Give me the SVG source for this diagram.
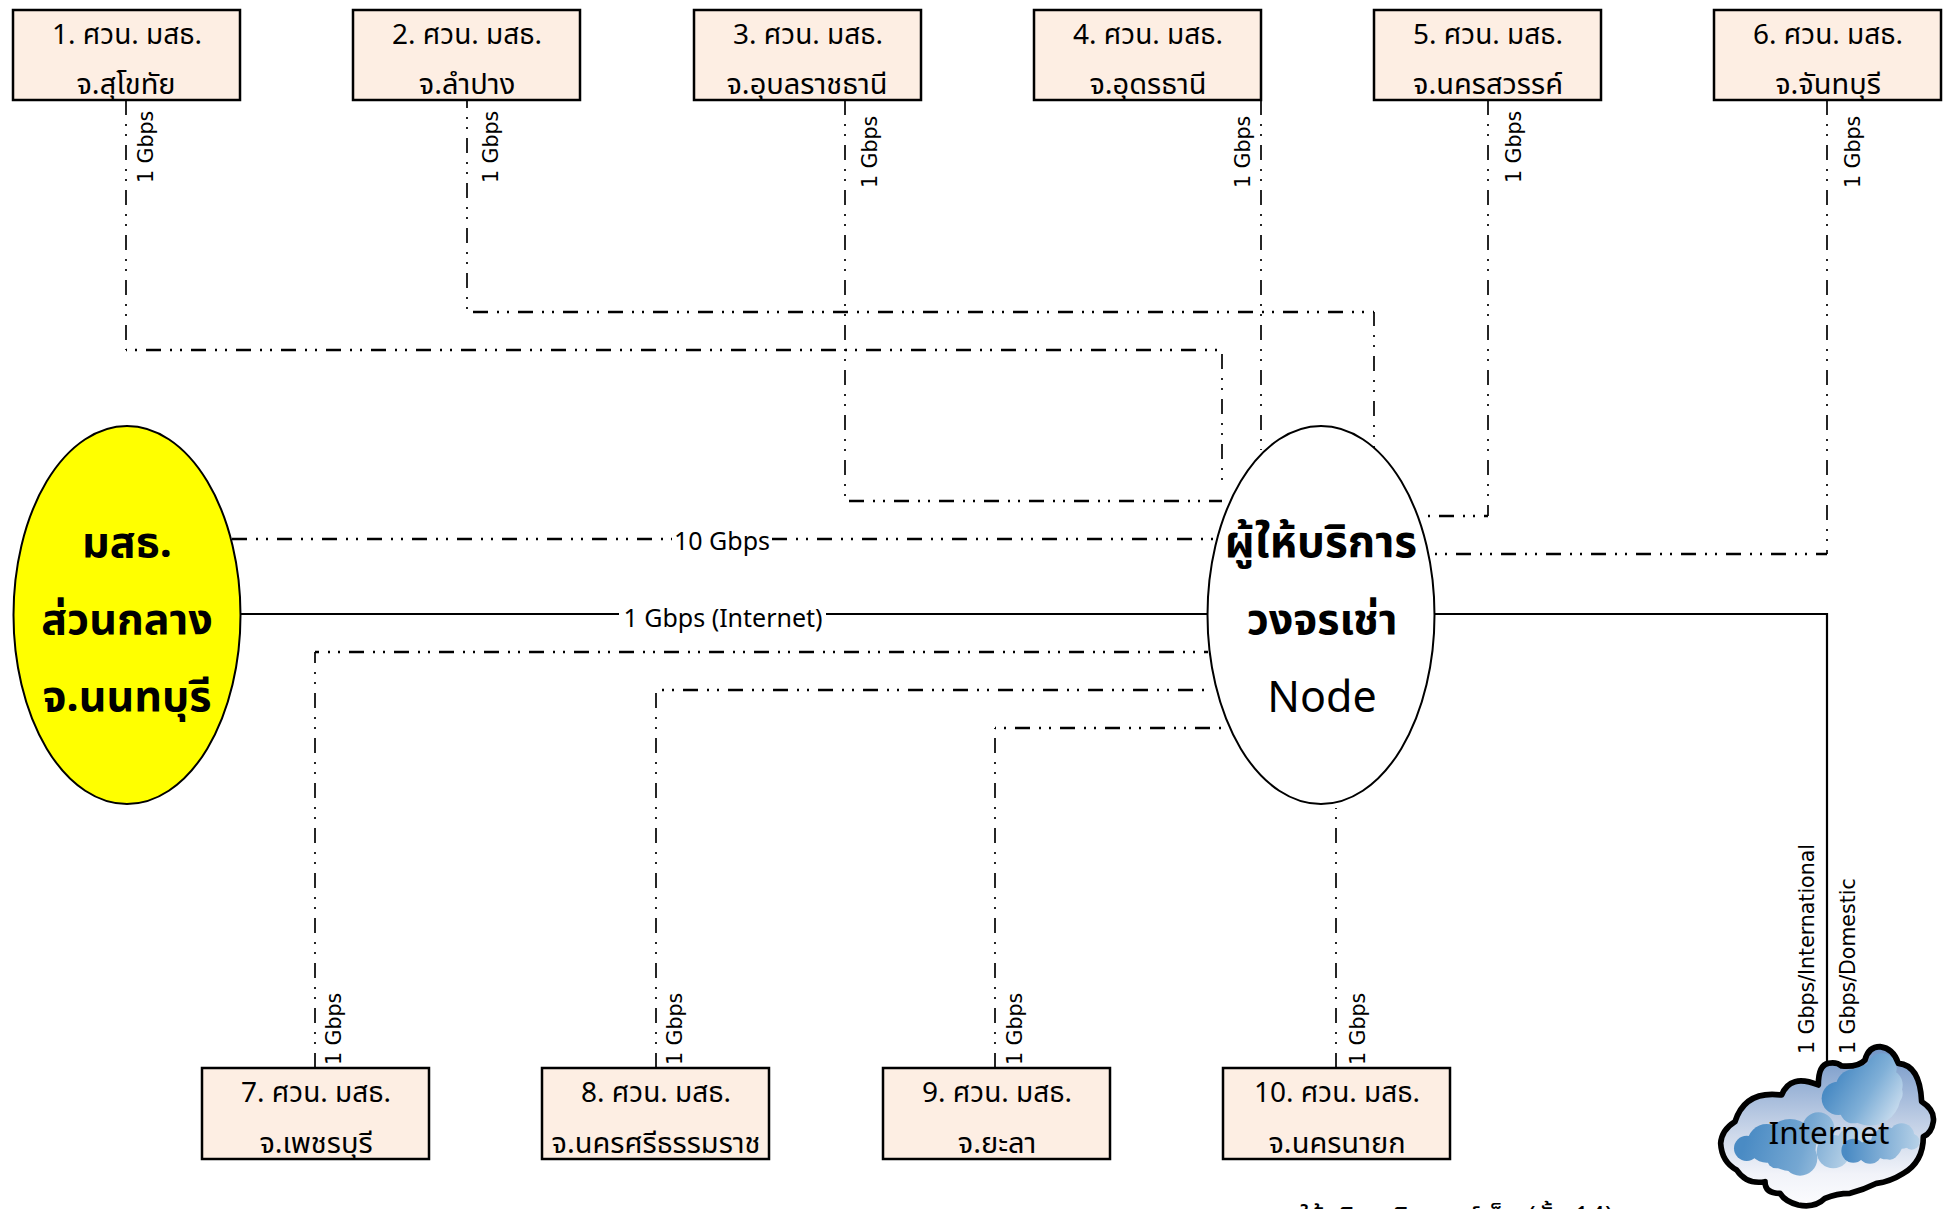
<svg xmlns="http://www.w3.org/2000/svg" width="1946" height="1209" viewBox="0 0 1946 1209">
<style>
text{font-family:"Noto Sans","Noto Sans Thai","Loma","Garuda","DejaVu Sans",sans-serif;text-anchor:middle;fill:#000}
.n{font-size:28px}.n2{font-size:29px}.b{font-size:43px}.l{font-size:25px}
.r{font-family:"DejaVu Sans",sans-serif;font-size:20.500px;text-anchor:start}
.box{fill:#fdeee3;stroke:#000;stroke-width:2.5}
.v,.h{fill:none;stroke:#000;stroke-dasharray:15 9 2 8 2 9}
.v{stroke-width:1.7}.h{stroke-width:2.4}
.s{fill:none;stroke:#000;stroke-width:2.2}
</style>
<defs>
<linearGradient id="cg" x1="0" y1="0" x2="0" y2="1"><stop offset="0" stop-color="#6f94c6"/><stop offset=".55" stop-color="#cdd8ea"/><stop offset=".8" stop-color="#f1f3f9"/><stop offset="1" stop-color="#fcfcfe"/></linearGradient>
<linearGradient id="c1" gradientUnits="userSpaceOnUse" x1="170" y1="320" x2="500" y2="420"><stop offset="0" stop-color="#4a8bc4"/><stop offset=".5" stop-color="#75a7d2"/><stop offset="1" stop-color="#c6dbec"/></linearGradient>
<linearGradient id="c2" gradientUnits="userSpaceOnUse" x1="430" y1="150" x2="620" y2="270"><stop offset="0" stop-color="#4a8bc4"/><stop offset=".5" stop-color="#7fafd7"/><stop offset="1" stop-color="#cfe0f0"/></linearGradient>
<linearGradient id="c3" gradientUnits="userSpaceOnUse" x1="470" y1="340" x2="690" y2="350"><stop offset="0" stop-color="#4a8bc4"/><stop offset="1" stop-color="#b8d2e8"/></linearGradient>
</defs>
<g id="connectors">
<path class="v" d="M126 100V350"/><path class="h" stroke-dashoffset="250" d="M126 350H1222"/><path class="v" stroke-dashoffset="1346" d="M1222 350V480"/>
<path class="v" stroke-dashoffset="7" d="M467 100V312"/><path class="h" stroke-dashoffset="219" d="M467 312H1374"/><path class="v" stroke-dashoffset="1126" d="M1374 312V448"/>
<path class="v" d="M845 100V501"/><path class="h" stroke-dashoffset="401" d="M845 501H1222"/>
<path class="v" d="M1261 100V450"/>
<path class="v" d="M1488 100V516"/><path class="h" stroke-dashoffset="416" d="M1488 516H1420"/>
<path class="v" d="M1827 100V554"/><path class="h" stroke-dashoffset="454" d="M1827 554H1430"/>
<path class="h" d="M232 539H1215"/>
<path class="s" d="M240 614H1208"/>
<path class="s" d="M1434 614H1827V1070"/>
<path class="v" d="M315 1068V652"/><path class="h" stroke-dashoffset="416" d="M315 652H1208"/>
<path class="v" d="M656 1068V690"/><path class="h" stroke-dashoffset="378" d="M656 690H1212"/>
<path class="v" d="M995 1068V728"/><path class="h" stroke-dashoffset="340" d="M995 728H1228"/>
<path class="v" d="M1336 1068V808"/>
</g>
<g id="n1"><rect class="box" x="13" y="10" width="227" height="90"/><text class="n" x="127" y="44">1. ศวน. มสธ.</text><text class="n2" x="126" y="94">จ.สุโขทัย</text></g>
<g id="n2"><rect class="box" x="353" y="10" width="227" height="90"/><text class="n" x="467" y="44">2. ศวน. มสธ.</text><text class="n2" x="467" y="94">จ.ลำปาง</text></g>
<g id="n3"><rect class="box" x="694" y="10" width="227" height="90"/><text class="n" x="808" y="44">3. ศวน. มสธ.</text><text class="n2" x="807" y="94">จ.อุบลราชธานี</text></g>
<g id="n4"><rect class="box" x="1034" y="10" width="227" height="90"/><text class="n" x="1148" y="44">4. ศวน. มสธ.</text><text class="n2" x="1148" y="94">จ.อุดรธานี</text></g>
<g id="n5"><rect class="box" x="1374" y="10" width="227" height="90"/><text class="n" x="1488" y="44">5. ศวน. มสธ.</text><text class="n2" x="1488" y="94">จ.นครสวรรค์</text></g>
<g id="n6"><rect class="box" x="1714" y="10" width="227" height="90"/><text class="n" x="1828" y="44">6. ศวน. มสธ.</text><text class="n2" x="1828" y="94">จ.จันทบุรี</text></g>
<g id="n7"><rect class="box" x="202" y="1068" width="227" height="91"/><text class="n" x="316" y="1102">7. ศวน. มสธ.</text><text class="n2" x="316" y="1153">จ.เพชรบุรี</text></g>
<g id="n8"><rect class="box" x="542" y="1068" width="227" height="91"/><text class="n" x="656" y="1102">8. ศวน. มสธ.</text><text class="n2" x="656" y="1153">จ.นครศรีธรรมราช</text></g>
<g id="n9"><rect class="box" x="883" y="1068" width="227" height="91"/><text class="n" x="997" y="1102">9. ศวน. มสธ.</text><text class="n2" x="997" y="1153">จ.ยะลา</text></g>
<g id="n10"><rect class="box" x="1223" y="1068" width="227" height="91"/><text class="n" x="1337" y="1102">10. ศวน. มสธ.</text><text class="n2" x="1337" y="1153">จ.นครนายก</text></g>
<g id="hq"><ellipse cx="127" cy="615" rx="113.500" ry="189" fill="#ff0" stroke="#000" stroke-width="2"/><text class="b" font-weight="bold" x="127" y="557">มสธ.</text><text class="b" font-weight="bold" x="127" y="634">ส่วนกลาง</text><text class="b" font-weight="bold" x="127" y="711">จ.นนทบุรี</text></g>
<g id="node"><ellipse cx="1321" cy="615" rx="113.500" ry="189" fill="#fff" stroke="#000" stroke-width="2"/><text class="b" font-weight="bold" x="1321" y="557" style="font-size:44px">ผู้ให้บริการ</text><text class="b" font-weight="bold" x="1322" y="634">วงจรเช่า</text><text class="b" x="1322" y="712">Node</text></g>
<g id="internet">
<g transform="translate(1690 1030) scale(.33333)">
<path id="cloud" d="M385 165Q385 105 415 100Q440 95 455 108Q505 112 525 90Q535 50 570 50Q610 55 625 100Q690 105 695 215Q735 240 730 275Q725 310 700 320Q700 395 640 430Q600 455 560 460Q520 480 480 490Q440 490 405 505Q375 535 325 525Q285 515 270 490Q225 490 225 455Q170 465 140 420Q95 395 92 340Q95 300 135 275Q165 180 275 195Q300 130 385 165Z" fill="url(#cg)"/>
<g fill="url(#c1)"><circle cx="170" cy="355" r="38"/><circle cx="230" cy="340" r="58"/><circle cx="300" cy="345" r="78"/><circle cx="330" cy="385" r="52"/><circle cx="260" cy="385" r="30"/><circle cx="430" cy="365" r="50"/><circle cx="385" cy="295" r="48"/><circle cx="490" cy="340" r="50"/></g>
<g fill="url(#c2)"><circle cx="445" cy="205" r="50"/><circle cx="490" cy="170" r="52"/><circle cx="540" cy="195" r="92"/><circle cx="590" cy="165" r="48"/><circle cx="575" cy="115" r="45"/><circle cx="600" cy="190" r="38"/><circle cx="490" cy="240" r="40"/><circle cx="550" cy="245" r="30"/></g>
<g fill="url(#c3)"><circle cx="490" cy="362" r="36"/><circle cx="540" cy="365" r="36"/><circle cx="590" cy="340" r="48"/><circle cx="635" cy="318" r="38"/><circle cx="665" cy="335" r="24"/><circle cx="600" cy="365" r="24"/></g>
<path d="M385 165Q385 105 415 100Q440 95 455 108Q505 112 525 90Q535 50 570 50Q610 55 625 100Q690 105 695 215Q735 240 730 275Q725 310 700 320Q700 395 640 430Q600 455 560 460Q520 480 480 490Q440 490 405 505Q375 535 325 525Q285 515 270 490Q225 490 225 455Q170 465 140 420Q95 395 92 340Q95 300 135 275Q165 180 275 195Q300 130 385 165Z" fill="none" stroke="#000" stroke-width="17" stroke-linejoin="round"/>
</g>
<text x="1829" y="1144" style="font-size:31.500px">Internet</text>
</g>
<g id="labels">
<rect x="672" y="530" width="99" height="24" fill="#fff"/><text class="l" x="722" y="550">10 Gbps</text>
<rect x="619" y="604" width="207" height="26" fill="#fff"/><text class="l" x="723" y="627">1 Gbps (Internet)</text>
<text class="r" transform="translate(153,183) rotate(-90)">1 Gbps</text>
<text class="r" transform="translate(498,183) rotate(-90)">1 Gbps</text>
<text class="r" transform="translate(877,188) rotate(-90)">1 Gbps</text>
<text class="r" transform="translate(1250,188) rotate(-90)">1 Gbps</text>
<text class="r" transform="translate(1521,183) rotate(-90)">1 Gbps</text>
<text class="r" transform="translate(1860,188) rotate(-90)">1 Gbps</text>
<text class="r" transform="translate(341,1065) rotate(-90)">1 Gbps</text>
<text class="r" transform="translate(682,1065) rotate(-90)">1 Gbps</text>
<text class="r" transform="translate(1022,1065) rotate(-90)">1 Gbps</text>
<text class="r" transform="translate(1365,1065) rotate(-90)">1 Gbps</text>
<text class="r" transform="translate(1814,1054) rotate(-90)">1 Gbps/International</text>
<text class="r" transform="translate(1855,1054) rotate(-90)">1 Gbps/Domestic</text>
</g>
<text x="1613" y="1226" style="font-size:27px;text-anchor:end">ให้บริการอินเทอร์เน็ต (ชั้น 14)</text>
</svg>
